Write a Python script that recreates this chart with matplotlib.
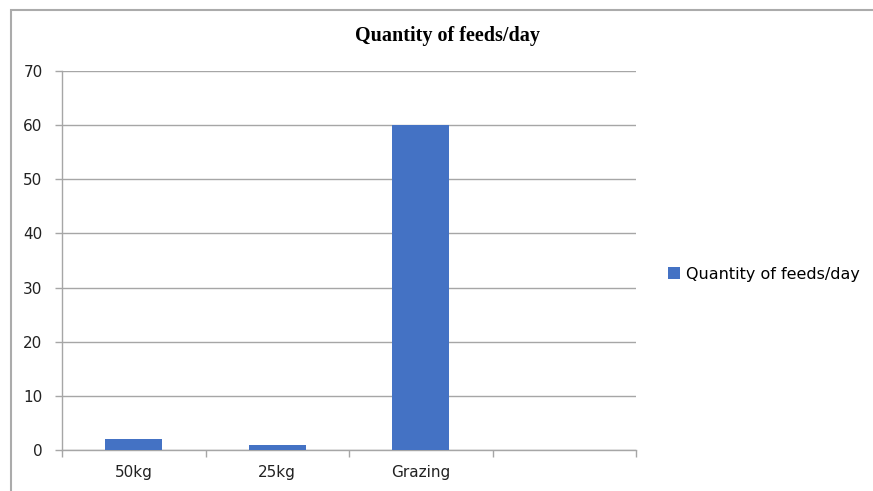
import matplotlib.pyplot as plt
from matplotlib.patches import Rectangle
import numpy as np

categories = ['50kg', '25kg', 'Grazing', '']
values = [2, 1, 60, np.nan]
series_name = 'Quantity of feeds/day'
y_ticks = [0, 10, 20, 30, 40, 50, 60, 70]

W, H = 873, 491
fig = plt.figure(figsize=(W / 100, H / 100), dpi=100)
ax = fig.add_axes([62 / W, 1 - 450 / H, (636 - 62) / W, (450 - 71) / H])

# outer chart border (only left and top visible in the crop)
fig.patches.append(Rectangle((11 / W, -0.1), 1.2, 1 - 10 / H + 0.1,
                             transform=fig.transFigure, fill=False,
                             edgecolor='#ABABAB', linewidth=1.5))

x = np.arange(len(categories))
ax.bar(x, values, width=0.4, color='#4472C4', label=series_name, zorder=3)

grid_col = '#A6A6A6'
ax.set_xlim(-0.5, len(categories) - 0.5)
ax.set_ylim(0, 70)
ax.set_yticks(y_ticks)
ax.yaxis.grid(True, color=grid_col, linewidth=1.0, zorder=0)

ax.set_xticks(x)
ax.set_xticklabels(categories)
ax.set_xticks(np.arange(-0.5, len(categories)), minor=True)
ax.tick_params(axis='x', which='major', length=0, pad=11, labelsize=11, labelcolor='#222222')
ax.tick_params(axis='x', which='minor', length=5, color=grid_col, width=1.0)
ax.tick_params(axis='y', length=5, color=grid_col, width=1.0, pad=9, labelsize=11, labelcolor='#222222')

for s in ['top', 'right']:
    ax.spines[s].set_visible(False)
for s in ['left', 'bottom']:
    ax.spines[s].set_color(grid_col)
    ax.spines[s].set_linewidth(1.0)

fig.text(448 / W, 1 - 36 / H, series_name, ha='center', va='center',
         fontsize=14.5, fontweight='bold', family='Liberation Serif')

ax.legend(loc='center left', bbox_to_anchor=(654 / W, 1 - 274 / H),
          bbox_transform=fig.transFigure, frameon=False, fontsize=11.5,
          handlelength=0.75, handleheight=0.75, handletextpad=0.35)

fig.savefig('out.png', dpi=100)
